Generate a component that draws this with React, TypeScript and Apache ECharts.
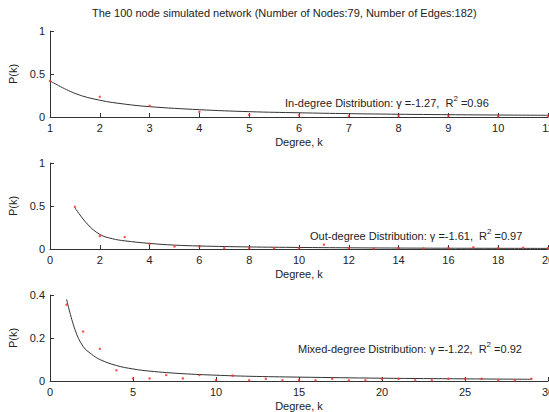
import React, { useEffect, useRef } from "react";
import * as echarts from "echarts";

const titleText = "The 100 node simulated network (Number of Nodes:79, Number of Edges:182)";

// In-degree
const inK = [1, 2, 3, 4, 5, 6, 7, 8, 9, 10, 11];
const inP = [0.42, 0.235, 0.13, 0.06, 0.025, 0.02, 0.012, 0.012, 0.012, 0.012, 0.012];
const inFitK = [1, 1.5, 2, 2.5, 3, 4, 5, 6, 7, 8, 9, 10, 11];
const inFitP = [0.42, 0.275, 0.195, 0.15, 0.12, 0.085, 0.062, 0.049, 0.039, 0.032, 0.027, 0.023, 0.02];

// Out-degree
const outK = [1, 2, 3, 4, 5, 6, 7, 8, 9, 10, 11, 12, 13, 14, 15, 16, 17, 18, 19, 20];
const outP = [0.49, 0.15, 0.14, 0.06, 0.03, 0.03, 0.01, 0.01, 0.01, 0.01, 0.05, 0.01, 0.005, 0.01, 0.005, 0.01, 0.02, 0.01, 0.015, 0.01];
const outFitK = [1, 1.5, 2, 2.5, 3, 4, 5, 6, 8, 10, 12, 14, 16, 18, 20];
const outFitP = [0.48, 0.29, 0.17, 0.12, 0.095, 0.065, 0.045, 0.035, 0.024, 0.018, 0.014, 0.011, 0.009, 0.008, 0.007];

// Mixed-degree
const mixK = [1, 2, 3, 4, 5, 6, 7, 8, 9, 10, 11, 12, 13, 14, 15, 16, 17, 18, 19, 20, 21, 22, 23, 24, 25, 26, 27, 28, 29];
const mixP = [0.355, 0.23, 0.15, 0.05, 0.012, 0.012, 0.028, 0.012, 0.028, 0.004, 0.025, 0.003, 0.01, 0.003, 0.005, 0.003, 0.01, 0.003, 0.003, 0.01, 0.01, 0.003, 0.003, 0.01, 0.01, 0.01, 0.003, 0.003, 0.01];
const mixFitK = [1, 1.5, 2, 2.5, 3, 4, 5, 6, 8, 10, 12, 15, 20, 25, 29];
const mixFitP = [0.38, 0.24, 0.16, 0.125, 0.1, 0.072, 0.056, 0.046, 0.034, 0.027, 0.022, 0.018, 0.013, 0.01, 0.008];

const xTicks = [
  { min: 1, max: 11, interval: 1 },
  { min: 0, max: 20, interval: 2 },
  { min: 0, max: 30, interval: 5 },
];
const yTicks = [
  { min: 0, max: 1, interval: 0.5 },
  { min: 0, max: 1, interval: 0.5 },
  { min: 0, max: 0.4, interval: 0.2 },
];

const annotations = [
  { label: "In-degree Distribution: γ =-1.27,  R", sq: "2", tail: " =0.96" },
  { label: "Out-degree Distribution: γ =-1.61,  R", sq: "2", tail: " =0.97" },
  { label: "Mixed-degree Distribution: γ =-1.22,  R", sq: "2", tail: " =0.92" },
];

const FONT = "Liberation Sans, Arial, sans-serif";
const TXT = "#222";

export default function App() {
  const ref = useRef<HTMLDivElement>(null);
  useEffect(() => {
    if (!ref.current) return;
    const chart = echarts.init(ref.current, undefined, { renderer: "svg" });
    const tops = [31, 163, 295];
    const annPos = [
      [285, 94],
      [310, 227],
      [298, 340],
    ];
    const grids = tops.map((t) => ({
      left: 50,
      width: 498,
      top: t,
      height: 86,
      containLabel: false,
      outerBoundsMode: "none",
    }));
    const xAxes = xTicks.map((t, i) => ({
      type: "value",
      gridIndex: i,
      min: t.min,
      max: t.max,
      interval: t.interval,
      name: "Degree, k",
      nameLocation: "middle",
      nameGap: 19,
      nameTextStyle: { fontFamily: FONT, fontSize: 11, color: TXT },
      axisLine: { lineStyle: { color: "#333", width: 1 } },
      axisTick: { inside: true, length: 4, lineStyle: { color: "#333" } },
      axisLabel: { fontFamily: FONT, fontSize: 11, color: TXT, margin: 5, hideOverlap: false },
      splitLine: { show: false },
    }));
    const yAxes = yTicks.map((t, i) => ({
      type: "value",
      gridIndex: i,
      min: t.min,
      max: t.max,
      interval: t.interval,
      name: "P(k)",
      nameLocation: "middle",
      nameGap: 32,
      nameTextStyle: { fontFamily: FONT, fontSize: 11, color: TXT },
      axisLine: { show: true, lineStyle: { color: "#333", width: 1 } },
      axisTick: { show: true, inside: true, length: 4, lineStyle: { color: "#333" } },
      axisLabel: { fontFamily: FONT, fontSize: 11, color: TXT, margin: 5 },
      splitLine: { show: false },
    }));
    const fits = [
      [inFitK, inFitP],
      [outFitK, outFitP],
      [mixFitK, mixFitP],
    ];
    const pts = [
      [inK, inP],
      [outK, outP],
      [mixK, mixP],
    ];
    const series: any[] = [];
    fits.forEach(([k, p], i) => {
      series.push({
        type: "line",
        xAxisIndex: i,
        yAxisIndex: i,
        data: k.map((v, j) => [v, p[j]]),
        smooth: 0.4,
        showSymbol: false,
        lineStyle: { color: "#333", width: 1 },
        z: 2,
      });
    });
    pts.forEach(([k, p], i) => {
      series.push({
        type: "scatter",
        xAxisIndex: i,
        yAxisIndex: i,
        data: k.map((v, j) => [v, p[j]]),
        symbolSize: 2.5,
        itemStyle: { color: "#ff2a2a" },
        z: 3,
      });
    });
    const graphic = annotations.map((a, i) => ({
      type: "text",
      x: annPos[i][0],
      y: annPos[i][1],
      style: {
        text: `{b|${a.label}}{s|${a.sq}}{b|${a.tail}}`,
        rich: {
          b: { fontFamily: FONT, fontSize: 11, fill: TXT, color: TXT, lineHeight: 14, verticalAlign: "bottom" },
          s: { fontFamily: FONT, fontSize: 8, fill: TXT, color: TXT, lineHeight: 14, verticalAlign: "top", padding: [0, 0, 5, 0] },
        },
      },
    }));
    chart.setOption({
      animation: false,
      backgroundColor: "#fff",
      title: {
        text: titleText,
        left: 87,
        top: 2,
        textStyle: { fontFamily: FONT, fontSize: 11, fontWeight: "normal", color: TXT },
      },
      grid: grids,
      xAxis: xAxes,
      yAxis: yAxes,
      series,
      graphic,
    });
    return () => chart.dispose();
  }, []);
  return (
    <div
      ref={ref}
      style={{ position: "fixed", left: 0, top: 0, width: 549, height: 412 }}
    />
  );
}
